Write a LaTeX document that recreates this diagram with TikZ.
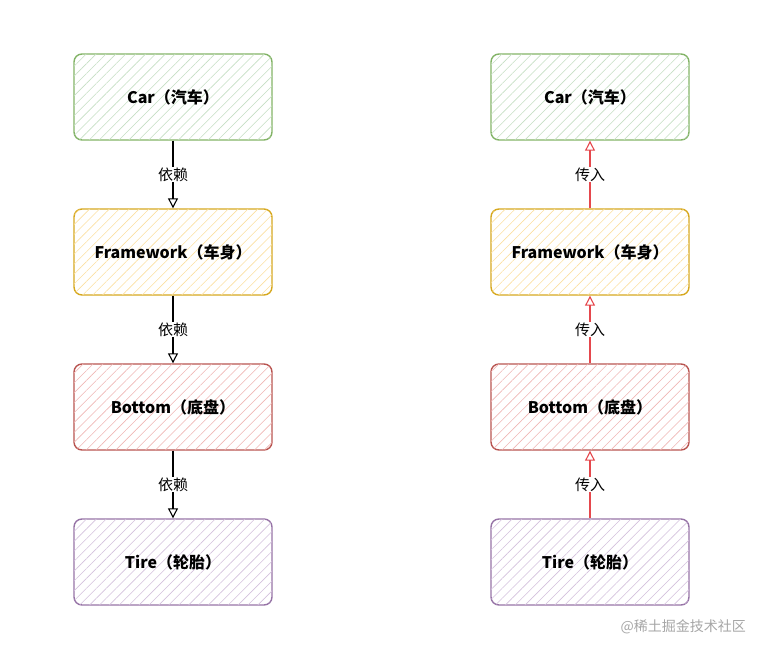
\documentclass[tikz,border=0pt]{standalone}
\usepackage{fontspec}
\setmainfont{Noto Sans CJK SC}
\usetikzlibrary{arrows.meta,patterns.meta}
\definecolor{gS}{HTML}{82B366}\definecolor{gF}{HTML}{C5DEC3}
\definecolor{yS}{HTML}{D6A81E}\definecolor{yF}{HTML}{FBDFA0}
\definecolor{rS}{HTML}{B85450}\definecolor{rF}{HTML}{EFB6B4}
\definecolor{pS}{HTML}{9673A6}\definecolor{pF}{HTML}{D3C0DC}
\definecolor{arrR}{HTML}{E5484D}
\begin{document}
\begin{tikzpicture}[x=1pt,y=-1pt,
  box/.style n args={2}{draw=#1,line width=1.4pt,rounded corners=8pt,minimum width=198pt,minimum height=86pt,
    postaction={pattern={Lines[angle=45,distance=7pt,line width=0.6pt]},pattern color=#2},
    font=\bfseries\fontsize{16pt}{18pt}\selectfont,inner sep=0pt},
  dep/.style={draw=black,line width=1.3pt,-{Triangle[open,length=10pt,width=10pt,line width=1.1pt]}},
  inj/.style={draw=arrR,line width=1.3pt,-{Triangle[open,length=10pt,width=10pt,line width=1.1pt]}},
  lbl/.style={fill=white,inner sep=1pt,font=\fontsize{15pt}{17pt}\selectfont},
]
\useasboundingbox (0,0) rectangle (764,655);
% left column
\node[box={gS}{gF}] (c1) at (173,97) {Car（汽车）};
\node[box={yS}{yF}] (f1) at (173,252) {Framework（车身）};
\node[box={rS}{rF}] (b1) at (173,407) {Bottom（底盘）};
\node[box={pS}{pF}] (t1) at (173,562) {Tire（轮胎）};
\draw[dep] (c1) -- node[lbl] {依赖} (f1);
\draw[dep] (f1) -- node[lbl] {依赖} (b1);
\draw[dep] (b1) -- node[lbl] {依赖} (t1);
% right column
\node[box={gS}{gF}] (c2) at (590,97) {Car（汽车）};
\node[box={yS}{yF}] (f2) at (590,252) {Framework（车身）};
\node[box={rS}{rF}] (b2) at (590,407) {Bottom（底盘）};
\node[box={pS}{pF}] (t2) at (590,562) {Tire（轮胎）};
\draw[inj] (f2) -- node[lbl] {传入} (c2);
\draw[inj] (b2) -- node[lbl] {传入} (f2);
\draw[inj] (t2) -- node[lbl] {传入} (b2);
\node[text=black!35,font=\fontsize{14pt}{16pt}\selectfont,anchor=east,inner sep=0pt] (wm) at (746,627) {@稀土掘金技术社区};
\end{tikzpicture}
\end{document}
